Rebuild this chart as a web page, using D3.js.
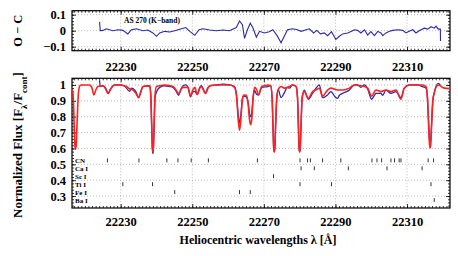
<!DOCTYPE html>
<html>
<head>
<meta charset="utf-8">
<script src="https://cdn.jsdelivr.net/npm/d3@7"></script>
<style>
  body { margin: 0; background: #fff; }
  svg text { font-family: "Liberation Serif", "DejaVu Serif", serif; font-weight: bold; }
</style>
</head>
<body>
<svg id="chart" width="458" height="256"></svg>
<script>
// ---- data ----
var xTicks = [22230, 22250, 22270, 22290, 22310];
var ocTicks = [-0.1, 0, 0.1];
var fluxTicks = [0.3, 0.4, 0.5, 0.6, 0.7, 0.8, 0.9, 1];

// O - C residuals [wavelength, residual]
var ocData = [[22224.1, 0.055], [22224.3, 0.0], [22225.06, 0.002], [22226.0, 0.012], [22227.85, 0.0],
  [22229.25, 0.006], [22230.64, 0.002], [22232.0, -0.02], [22233.0, 0.006], [22234.4, 0.012],
  [22236.2, 0.0], [22237.6, 0.004], [22239.0, -0.014], [22240.0, -0.035], [22240.9, -0.014],
  [22242.3, -0.004], [22243.7, -0.008], [22245.1, 0.0], [22247.0, 0.012], [22248.2, 0.02],
  [22249.3, -0.004], [22250.7, -0.029], [22251.9, 0.006], [22253.0, 0.012], [22254.9, 0.004],
  [22256.7, 0.0], [22258.6, 0.004], [22260.4, 0.0], [22262.3, 0.02], [22263.2, 0.061],
  [22264.0, 0.037], [22264.6, -0.048], [22265.4, 0.006], [22266.2, 0.047], [22266.9, 0.02],
  [22267.9, -0.04], [22268.8, -0.004], [22270.1, -0.014], [22271.5, -0.006], [22272.5, 0.006],
  [22273.7, -0.031], [22274.8, -0.076], [22275.7, -0.035], [22276.6, 0.006], [22278.0, 0.012],
  [22279.4, 0.006], [22280.4, -0.004], [22281.8, 0.006], [22282.7, 0.012], [22283.9, -0.014],
  [22284.8, 0.002], [22285.8, -0.02], [22286.9, -0.014], [22287.8, -0.031], [22288.9, -0.006],
  [22290.1, -0.055], [22291.1, -0.035], [22292.0, -0.02], [22293.4, -0.014], [22294.5, -0.004],
  [22295.3, 0.006], [22296.2, 0.002], [22297.1, -0.014], [22298.1, 0.006], [22299.0, -0.027],
  [22299.9, -0.006], [22300.9, -0.031], [22301.8, -0.004], [22302.7, -0.014], [22303.2, -0.031],
  [22304.1, -0.014], [22305.1, -0.004], [22306.0, 0.002], [22307.4, 0.006], [22308.8, 0.002],
  [22309.7, -0.014], [22310.6, -0.004], [22311.6, 0.006], [22312.5, -0.014], [22313.4, 0.0],
  [22314.8, 0.016], [22315.8, 0.01], [22316.7, 0.025], [22317.6, 0.016], [22318.1, 0.029],
  [22318.7, 0.01], [22319.3, 0.01], [22319.35, -0.065]];

// synthetic (model) spectrum [wavelength, flux]
var modelSpec = [[22216.5, 0.97], [22216.8, 0.90], [22217.05, 0.72], [22217.25, 0.61], [22217.4, 0.595],
  [22217.6, 0.63], [22217.85, 0.78], [22218.2, 0.95], [22218.6, 0.995], [22219.1, 1.0],
  [22221.3, 1.0], [22222.0, 0.98], [22222.5, 0.937], [22223.1, 0.97], [22223.6, 0.99],
  [22225.1, 0.995], [22225.8, 0.975], [22226.5, 0.947], [22227.2, 0.975], [22228.3, 1.0],
  [22229.7, 1.0], [22231.6, 0.99], [22232.5, 0.975], [22233.6, 0.965], [22234.3, 0.945],
  [22235.0, 0.92], [22235.6, 0.955], [22236.2, 0.99], [22238.1, 0.995], [22238.4, 0.94],
  [22238.65, 0.76], [22238.85, 0.61], [22239.0, 0.58], [22239.15, 0.61], [22239.35, 0.76],
  [22239.6, 0.94], [22240.0, 0.99], [22242.3, 1.0], [22244.6, 0.99], [22245.4, 0.97],
  [22246.2, 0.945], [22246.8, 0.97], [22247.4, 0.985], [22248.8, 0.985], [22249.5, 0.93],
  [22250.1, 0.965], [22250.7, 0.985], [22251.4, 0.94], [22252.1, 0.98], [22252.5, 0.99],
  [22253.7, 0.947], [22254.3, 0.975], [22254.9, 0.995], [22257.7, 1.0], [22260.4, 1.0],
  [22261.8, 0.985], [22262.4, 0.92], [22262.8, 0.79], [22263.2, 0.715], [22263.6, 0.79],
  [22264.0, 0.91], [22264.4, 0.937], [22265.1, 0.935], [22265.6, 0.88], [22266.0, 0.78],
  [22266.3, 0.75], [22266.6, 0.78], [22267.0, 0.92], [22267.4, 0.985], [22268.0, 0.97],
  [22268.5, 0.937], [22269.4, 0.99], [22271.1, 1.0], [22271.9, 0.995], [22272.3, 0.92],
  [22272.55, 0.74], [22272.75, 0.60], [22272.9, 0.578], [22273.05, 0.60], [22273.3, 0.76],
  [22273.6, 0.92], [22274.0, 0.97], [22274.8, 0.99], [22275.7, 0.98], [22277.1, 0.99],
  [22278.0, 1.0], [22279.0, 0.99], [22279.4, 0.92], [22279.65, 0.74], [22279.85, 0.60],
  [22280.0, 0.578], [22280.15, 0.60], [22280.4, 0.76], [22280.7, 0.92], [22281.3, 0.958],
  [22282.4, 0.916], [22283.6, 0.958], [22284.5, 0.968], [22285.5, 0.979], [22286.4, 0.93],
  [22287.8, 0.968], [22288.7, 0.98], [22290.6, 0.968], [22292.0, 0.968], [22293.9, 0.98],
  [22295.3, 1.0], [22298.1, 0.99], [22299.0, 0.98], [22300.1, 0.93], [22301.3, 0.968],
  [22302.7, 0.958], [22304.1, 0.968], [22305.5, 0.958], [22306.9, 0.968], [22308.3, 0.91],
  [22309.2, 0.979], [22310.6, 1.0], [22312.9, 1.0], [22314.3, 1.0], [22315.3, 0.99],
  [22315.7, 0.92], [22316.0, 0.76], [22316.3, 0.62], [22316.45, 0.603], [22316.6, 0.62],
  [22316.9, 0.76], [22317.2, 0.90], [22317.6, 0.95], [22318.7, 1.0], [22320.4, 0.98],
  [22322.0, 0.977]];

// observed spectrum [wavelength, flux]
var obsSpec = [[22224.1, 1.03], [22224.3, 0.99], [22225.1, 0.995], [22225.8, 0.98], [22226.5, 0.945],
  [22227.2, 0.975], [22228.3, 1.0], [22229.7, 1.0], [22231.0, 0.995], [22232.5, 0.96],
  [22233.0, 0.98], [22233.6, 0.975], [22234.3, 0.955], [22235.0, 0.92], [22235.6, 0.955],
  [22236.2, 0.99], [22238.1, 0.995], [22238.4, 0.94], [22238.65, 0.75], [22238.85, 0.60],
  [22239.0, 0.567], [22239.15, 0.60], [22239.35, 0.75], [22239.6, 0.92], [22240.1, 0.96],
  [22240.9, 0.985], [22242.3, 0.995], [22243.7, 0.99], [22244.6, 0.985], [22245.4, 0.965],
  [22246.2, 0.935], [22246.8, 0.97], [22247.4, 0.995], [22248.2, 1.0], [22248.8, 0.985],
  [22249.5, 0.925], [22250.1, 0.955], [22250.7, 0.96], [22251.4, 0.94], [22252.1, 0.985],
  [22252.5, 0.995], [22253.7, 0.95], [22254.3, 0.98], [22254.9, 0.995], [22256.7, 1.0],
  [22258.6, 1.005], [22260.4, 1.0], [22261.8, 0.99], [22262.4, 0.93], [22262.8, 0.82],
  [22263.2, 0.76], [22263.6, 0.82], [22264.0, 0.91], [22264.4, 0.93], [22265.1, 0.925],
  [22265.6, 0.89], [22266.0, 0.82], [22266.3, 0.80], [22266.6, 0.82], [22267.0, 0.92],
  [22267.4, 0.965], [22268.0, 0.94], [22268.5, 0.937], [22269.4, 0.985], [22271.1, 0.99],
  [22271.9, 0.995], [22272.3, 0.92], [22272.55, 0.74], [22272.75, 0.60], [22272.9, 0.578],
  [22273.05, 0.60], [22273.3, 0.75], [22273.6, 0.91], [22274.0, 0.97], [22274.8, 0.92],
  [22275.7, 0.95], [22276.6, 0.985], [22277.1, 0.98], [22278.0, 1.0], [22279.0, 0.99],
  [22279.4, 0.92], [22279.65, 0.74], [22279.85, 0.60], [22280.0, 0.578], [22280.15, 0.60],
  [22280.4, 0.76], [22280.7, 0.92], [22281.3, 0.968], [22282.4, 0.91], [22283.6, 0.947],
  [22284.5, 0.978], [22285.5, 1.0], [22286.4, 0.92], [22287.8, 0.937], [22288.7, 0.958],
  [22290.1, 0.92], [22290.6, 0.916], [22291.1, 0.935], [22292.0, 0.947], [22293.9, 0.968],
  [22295.3, 1.0], [22296.2, 1.0], [22297.1, 0.985], [22298.1, 1.0], [22299.0, 0.975],
  [22300.1, 0.91], [22300.9, 0.935], [22301.3, 0.947], [22302.7, 0.947], [22303.2, 0.935],
  [22304.1, 0.968], [22305.5, 0.947], [22306.9, 0.958], [22308.3, 0.92], [22309.2, 0.979],
  [22310.6, 1.0], [22312.9, 1.0], [22314.3, 0.99], [22315.3, 0.98], [22315.7, 0.92],
  [22316.0, 0.78], [22316.3, 0.65], [22316.45, 0.63], [22316.6, 0.65], [22316.9, 0.78],
  [22317.2, 0.90], [22317.6, 0.95], [22318.7, 1.01], [22319.3, 1.0]];

// line identifications
var lineLabels = ["CN", "Ca I", "Sc I", "Ti I", "Fe I", "Ba I"];
var lineLevels = [0.525, 0.475, 0.425, 0.375, 0.325, 0.275];
var linesCN = [22226.3, 22235.1, 22242.9, 22246.0, 22249.7, 22254.5, 22268.2, 22280.1, 22282.2, 22283.0,
  22286.4, 22291.5, 22300.2, 22301.6, 22302.9, 22305.5, 22306.5, 22307.8, 22308.3, 22315.9, 22317.4];
var linesCa = [22280.4, 22284.1, 22293.6, 22304.4, 22314.2];
var linesSc = [22272.7];
var linesTi = [22230.6, 22238.9, 22280.1, 22288.9, 22316.7];
var linesFe = [22245.1, 22263.2, 22266.2];
var linesBa = [22317.6];
var lineSets = [linesCN, linesCa, linesSc, linesTi, linesFe, linesBa];

// ---- layout ----
var svg = d3.select('#chart');
var left = 72, right = 450;
var topP = [10.7, 50.7];
var botP = [78.3, 208];

var x = d3.scaleLinear().domain([22216.4, 22322]).range([left, right]);
var yOC = d3.scaleLinear().domain([-0.125, 0.125]).range([topP[1], topP[0]]);
var yF = d3.scaleLinear().domain([0.225, 1.042]).range([botP[1], botP[0]]);

var blue = "#2a2aa8", red = "#ff2020";

function grid(g, y, yt, y0, y1) {
  g.selectAll('.vg').data(xTicks).enter().append('line')
    .attr('x1', function(d) { return x(d); }).attr('x2', function(d) { return x(d); })
    .attr('y1', y0).attr('y2', y1)
    .attr('stroke', '#aaa').attr('stroke-width', 0.8).attr('stroke-dasharray', '1,2');
  g.selectAll('.hg').data(yt).enter().append('line')
    .attr('x1', left).attr('x2', right)
    .attr('y1', function(d) { return y(d); }).attr('y2', function(d) { return y(d); })
    .attr('stroke', '#aaa').attr('stroke-width', 0.8).attr('stroke-dasharray', '1,2');
}

function frame(y, yt, yMinor, y0, y1, pad) {
  var g = svg.append('g');
  grid(g, y, yt, y0, y1);
  var xMinor = d3.range(22217, 22322, 1);
  // bottom axis with labels
  g.append('g').attr('transform', 'translate(0,' + y1 + ')')
    .call(d3.axisBottom(x).tickValues(xTicks).tickFormat(d3.format('d')).tickSize(-4).tickPadding(pad));
  g.append('g').attr('transform', 'translate(0,' + y1 + ')')
    .call(d3.axisBottom(x).tickValues(xMinor).tickFormat('').tickSize(-2));
  g.append('g').attr('transform', 'translate(0,' + y0 + ')')
    .call(d3.axisTop(x).tickValues(xTicks).tickFormat('').tickSize(-4));
  g.append('g').attr('transform', 'translate(0,' + y0 + ')')
    .call(d3.axisTop(x).tickValues(xMinor).tickFormat('').tickSize(-2));
  // left axis with labels
  g.append('g').attr('transform', 'translate(' + left + ',0)')
    .call(d3.axisLeft(y).tickValues(yt).tickFormat(function(d) { return d < 0 ? '\u2212' + Math.abs(d) : d; }).tickSize(-4).tickPadding(6));
  g.append('g').attr('transform', 'translate(' + left + ',0)')
    .call(d3.axisLeft(y).tickValues(yMinor).tickFormat('').tickSize(-2));
  g.append('g').attr('transform', 'translate(' + right + ',0)')
    .call(d3.axisRight(y).tickValues(yt).tickFormat('').tickSize(-4));
  g.append('g').attr('transform', 'translate(' + right + ',0)')
    .call(d3.axisRight(y).tickValues(yMinor).tickFormat('').tickSize(-2));
  g.selectAll('.domain').remove();
  g.selectAll('.tick text').attr('fill', '#000').style('font-size', '12.5px');
  g.selectAll('.tick line').attr('stroke', '#000').attr('stroke-width', 0.8);
  g.append('rect').attr('x', left).attr('y', y0).attr('width', right - left).attr('height', y1 - y0)
    .attr('fill', 'none').attr('stroke', '#000').attr('stroke-width', 1.2);
  return g;
}

// ---- top panel: O - C ----
frame(yOC, ocTicks, d3.range(-0.12, 0.121, 0.02), topP[0], topP[1], 11);

var ocLine = d3.line().x(function(d) { return x(d[0]); }).y(function(d) { return yOC(d[1]); });
svg.append('path').datum(ocData)
  .attr('d', ocLine).attr('fill', 'none').attr('stroke', blue).attr('stroke-width', 1.1);

svg.append('text').attr('x', 124).attr('y', 22.5).style('font-size', '7.5px').text('AS 270 (K\u2212band)');

// ---- bottom panel: spectra ----
frame(yF, fluxTicks, d3.range(0.24, 1.041, 0.02), botP[0], botP[1], 9);

var fLine = d3.line().curve(d3.curveMonotoneX)
  .x(function(d) { return x(d[0]); }).y(function(d) { return yF(d[1]); });
svg.append('clipPath').attr('id', 'clipB').append('rect')
  .attr('x', left).attr('y', botP[0]).attr('width', right - left).attr('height', botP[1] - botP[0]);
svg.append('path').datum(obsSpec).attr('clip-path', 'url(#clipB)')
  .attr('d', fLine).attr('fill', 'none').attr('stroke', blue).attr('stroke-width', 1.3);
svg.append('path').datum(modelSpec).attr('clip-path', 'url(#clipB)')
  .attr('d', fLine).attr('fill', 'none').attr('stroke', red).attr('stroke-width', 1.6);

// line list
var lines = svg.append('g');
lineSets.forEach(function(set, i) {
  var lv = lineLevels[i];
  lines.selectAll('.l' + i).data(set).enter().append('line')
    .attr('x1', function(d) { return x(d); }).attr('x2', function(d) { return x(d); })
    .attr('y1', yF(lv) - 2).attr('y2', yF(lv) + 2)
    .attr('stroke', '#000').attr('stroke-width', 0.8);
  lines.append('text').attr('x', 75).attr('y', yF(lv)).attr('dy', '0.35em')
    .style('font-size', '7px').text(lineLabels[i]);
});

// axis titles
svg.append('text').attr('transform', 'translate(22,' + ((topP[0] + topP[1]) / 2) + ') rotate(-90)')
  .attr('text-anchor', 'middle').style('font-size', '12.5px').text('O \u2212 C');
var yl = svg.append('text').attr('transform', 'translate(22,145) rotate(-90)')
  .attr('text-anchor', 'middle').style('font-size', '13px');
yl.append('tspan').text('Normalized Flux [F');
yl.append('tspan').attr('baseline-shift', 'sub').style('font-size', '9px').text('\u03bb');
yl.append('tspan').text('/F');
yl.append('tspan').attr('baseline-shift', 'sub').style('font-size', '9px').text('cont');
yl.append('tspan').text(']');
svg.append('text').attr('x', 258).attr('y', 244).attr('text-anchor', 'middle')
  .style('font-size', '12px').text('Heliocentric wavelengths \u03bb [\u00c5]');
</script>
</body>
</html>
